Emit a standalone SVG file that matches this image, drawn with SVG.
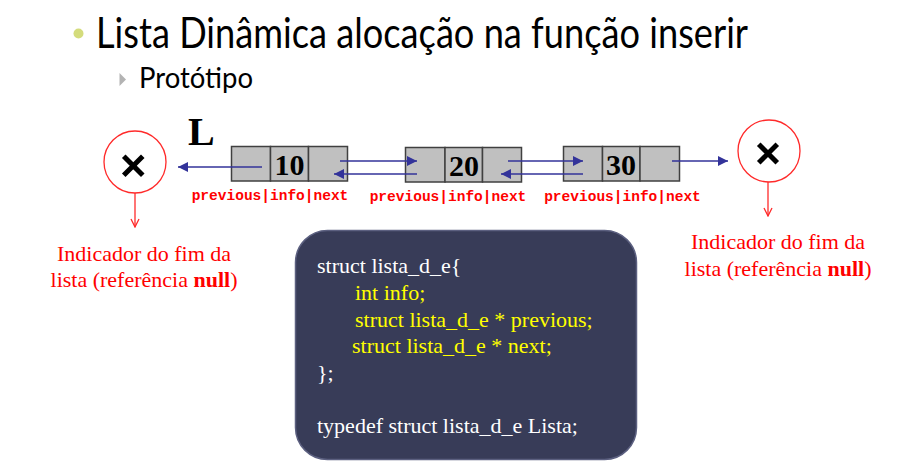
<svg xmlns="http://www.w3.org/2000/svg" width="902" height="467" viewBox="0 0 902 467">
  <style>
    .title { font-family: "Lato", "Open Sans", sans-serif; fill: #000; }
    .cell { fill: #c0c0c0; stroke: #404040; stroke-width: 1.5; }
    .num { font-family: "Liberation Serif", serif; font-weight: bold; font-size: 30px; fill: #000; text-anchor: middle; }
    .lbl { font-family: "Liberation Mono", monospace; font-weight: bold; font-size: 14.5px; fill: #ff0000; text-anchor: middle; }
    .ptr { stroke: #33339a; stroke-width: 1.4; fill: none; marker-end: url(#blueHead); }
    .null { fill: #fff; stroke: #ff2a2a; stroke-width: 1.3; }
    .cross { stroke: #000; stroke-width: 5; stroke-linecap: square; }
    .redline { stroke: #ff2a2a; stroke-width: 1.3; fill: none; marker-end: url(#redHead); }
    .note { font-family: "Liberation Serif", serif; font-size: 22px; fill: #ff0000; text-anchor: middle; }
    .code { font-family: "Liberation Serif", serif; font-size: 22px; }
    .w { fill: #ffffff; }
    .y { fill: #ffff00; }
  </style>
  <defs>
    <marker id="blueHead" viewBox="0 0 10 10" refX="10" refY="5" markerWidth="11" markerHeight="10" markerUnits="userSpaceOnUse" orient="auto">
      <path d="M0,0 L10,5 L0,10 z" fill="#33339a"/>
    </marker>
    <marker id="redHead" viewBox="0 0 10 10" refX="9" refY="5" markerWidth="10" markerHeight="10" markerUnits="userSpaceOnUse" orient="auto">
      <path d="M1,1 L9,5 L1,9" fill="none" stroke="#ff2a2a" stroke-width="1.3"/>
    </marker>
  </defs>

  <rect width="902" height="467" fill="#fff"/>

  <!-- heading -->
  <g id="heading">
    <circle cx="78.5" cy="33.5" r="5" fill="#d4dc7c"/>
    <text class="title" x="96" y="48" font-size="43" textLength="652" lengthAdjust="spacingAndGlyphs">Lista Dinâmica alocação na função inserir</text>
    <path d="M119.5,73 L126,79.5 L119.5,86 z" fill="#b3b3b3"/>
    <text class="title" x="139" y="88" font-size="28" textLength="114" lengthAdjust="spacingAndGlyphs">Protótipo</text>
  </g>

  <!-- list head pointer -->
  <g id="head-label">
    <text x="188" y="145" font-family="Liberation Serif, serif" font-weight="bold" font-size="40">L</text>
  </g>

  <!-- node 10 -->
  <g id="node10">
    <rect class="cell" x="231.5" y="146.5" width="39" height="34.5"/>
    <rect class="cell" x="270.5" y="146.5" width="38" height="34.5"/>
    <rect class="cell" x="308.5" y="146.5" width="39" height="34.5"/>
    <text class="num" x="289.5" y="175">10</text>
    <text class="lbl" x="270" y="200">previous|info|next</text>
  </g>

  <!-- node 20 -->
  <g id="node20">
    <rect class="cell" x="405.5" y="147.5" width="39.5" height="34.5"/>
    <rect class="cell" x="445" y="147.5" width="37.5" height="34.5"/>
    <rect class="cell" x="482.5" y="147.5" width="39" height="34.5"/>
    <text class="num" x="464" y="176">20</text>
    <text class="lbl" x="448" y="201">previous|info|next</text>
  </g>

  <!-- node 30 -->
  <g id="node30">
    <rect class="cell" x="563.5" y="146.5" width="39" height="34.5"/>
    <rect class="cell" x="602.5" y="146.5" width="37.5" height="34.5"/>
    <rect class="cell" x="640" y="146.5" width="39.5" height="34.5"/>
    <text class="num" x="621" y="175">30</text>
    <text class="lbl" x="622.5" y="201">previous|info|next</text>
  </g>

  <!-- null terminators -->
  <g id="null-left">
    <circle class="null" cx="135" cy="162" r="31"/>
    <path class="cross" d="M125.5,158 L141,173.5 M141,158 L125.5,173.5"/>
    <text class="note" x="144" y="261">Indicador do fim da</text>
    <text class="note" x="144" y="287">lista (referência <tspan font-weight="bold">null</tspan>)</text>
  </g>
  <g id="null-right">
    <circle class="null" cx="769" cy="151" r="31"/>
    <path class="cross" d="M760.5,146 L775.5,161 M775.5,146 L760.5,161"/>
    <text class="note" x="778" y="249">Indicador do fim da</text>
    <text class="note" x="778" y="276">lista (referência <tspan font-weight="bold">null</tspan>)</text>
  </g>

  <!-- connectors -->
  <g id="connectors">
    <path class="ptr" d="M262,167 H178"/>
    <path class="ptr" d="M340,161 H417"/>
    <path class="ptr" d="M417,174 H334"/>
    <path class="ptr" d="M508,161 H583"/>
    <path class="ptr" d="M583,174 H501"/>
    <path class="ptr" d="M672,161 H728"/>
    <path class="redline" d="M135,193 V227"/>
    <path class="redline" d="M768,182 V216"/>
  </g>

  <!-- struct declaration -->
  <g id="code-box">
    <rect x="295.5" y="230.5" width="341" height="229" rx="32" fill="#383c58" stroke="#5c6080" stroke-width="1.5"/>
    <text class="code w" x="317" y="273">struct lista_d_e{</text>
    <text class="code y" x="355" y="300">int info;</text>
    <text class="code y" x="355" y="327">struct lista_d_e * previous;</text>
    <text class="code y" x="352" y="353">struct lista_d_e * next;</text>
    <text class="code w" x="317" y="380">};</text>
    <text class="code w" x="317" y="433">typedef struct lista_d_e Lista;</text>
  </g>
</svg>
